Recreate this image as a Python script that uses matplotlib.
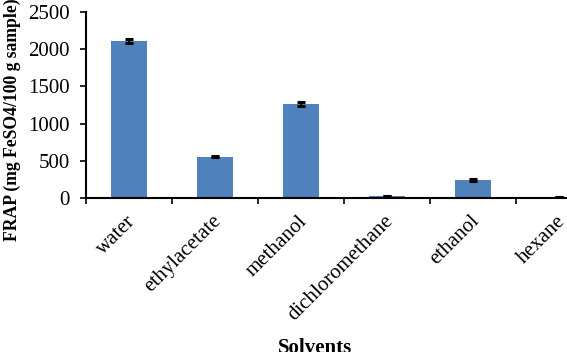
import matplotlib
matplotlib.use('Agg')
import matplotlib.pyplot as plt
from matplotlib.transforms import ScaledTranslation
import numpy as np

# Data
solvents = ['water', 'ethylacetate', 'methanol', 'dichloromethane', 'ethanol', 'hexane']
frap = [2110, 555, 1265, 25, 245, 10]
frapErr = [30, 10, 30, 0, 10, 0]
yTicks = [0, 500, 1000, 1500, 2000, 2500]

plt.rcParams['font.family'] = ['Liberation Serif', 'DejaVu Serif']

fig = plt.figure(figsize=(5.67, 3.52), dpi=100)
# axes runs past right edge, like the original
ax = fig.add_axes([86/567, 154/352, 516/567, 186/352])

xPos = np.arange(len(solvents))
ax.bar(xPos, frap, width=0.41, color='#4F81BD', zorder=2)
ax.errorbar(xPos, frap, yerr=frapErr, fmt='none', ecolor='black',
            elinewidth=1.2, capsize=3.2, capthick=2.2, zorder=3)

ax.set_xlim(-0.5, len(solvents) - 0.5)
ax.set_ylim(0, 2500)
ax.set_yticks(yTicks)
ax.set_yticklabels([str(v) for v in yTicks], fontsize=15)

# category ticks sit between bars
ax.set_xticks(np.arange(len(solvents) + 1) - 0.5)
ax.set_xticklabels([])
ax.set_xticks(xPos, minor=True)
ax.set_xticklabels(solvents, minor=True, rotation=45, ha='right',
                   va='top', rotation_mode='anchor', fontsize=15)
ax.tick_params(axis='x', which='minor', length=0, pad=10)
ax.tick_params(axis='x', which='major', length=4.5, width=1.2,
               direction='out')
ax.tick_params(axis='y', length=4.5, width=1.2, direction='out', pad=7)

# nudge rotated labels slightly left so hexane stays inside
shift = ScaledTranslation(-3/100, 0, fig.dpi_scale_trans)
for lbl in ax.get_xticklabels(minor=True):
    lbl.set_transform(lbl.get_transform() + shift)

for side in ['top', 'right']:
    ax.spines[side].set_visible(False)
for side in ['left', 'bottom']:
    ax.spines[side].set_linewidth(1.5)

fig.text(12/567, 1 - 120/352, 'FRAP (mg FeSO4/100 g sample)', rotation=90,
         ha='center', va='center', fontsize=12.7, fontweight='bold')
fig.text(315/567, 14/352, 'Solvents', ha='center', va='top',
         fontsize=15, fontweight='bold')

fig.savefig('out.png', dpi=100)
